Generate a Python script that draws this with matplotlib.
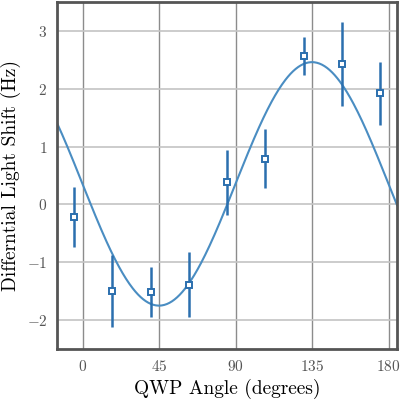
import numpy as np
import matplotlib
matplotlib.use("Agg")
import matplotlib.pyplot as plt

plt.rcParams["font.family"] = "serif"
plt.rcParams["font.serif"] = ["cmr10", "DejaVu Serif"]
plt.rcParams["mathtext.fontset"] = "cm"
plt.rcParams["axes.formatter.use_mathtext"] = True

# measured points
angle_deg = [-5, 17.5, 40, 62.5, 85, 107.5, 130, 152.5, 175]
shift_hz = [-0.22, -1.50, -1.52, -1.39, 0.38, 0.79, 2.56, 2.43, 1.92]
shift_err = [0.52, 0.62, 0.43, 0.56, 0.56, 0.51, 0.33, 0.73, 0.54]

# fit parameters: offset - amp * sin(2 theta)
fit_offset = 0.355
fit_amp = 2.105

x_ticks = [0, 45, 90, 135, 180]
y_ticks = [-2, -1, 0, 1, 2, 3]

fig = plt.figure(figsize=(4, 4), dpi=100)
ax = fig.add_axes([0.1425, 0.1275, 0.85, 0.8675])

theta = np.linspace(-15, 185, 400)
ax.plot(theta, fit_offset - fit_amp * np.sin(np.deg2rad(2 * theta)),
        color="#4a8dc2", lw=1.5, zorder=2)

ax.errorbar(angle_deg, shift_hz, yerr=shift_err, fmt="s", ms=4.5,
            mfc="white", mec="#2b6fae", mew=1.4, ecolor="#2b6fae",
            elinewidth=1.8, capsize=0, zorder=3)

ax.set_xlim(-15, 185)
ax.set_ylim(-2.5, 3.5)
ax.set_xticks(x_ticks)
ax.set_yticks(y_ticks)

ax.xaxis.grid(True, color="#8c8c8c", lw=1.0)
ax.yaxis.grid(True, color="#c4c4c4", lw=1.2)
ax.set_axisbelow(True)

for s in ax.spines.values():
    s.set_color("#555555")
    s.set_linewidth(2)

ax.tick_params(length=0, pad=7, labelsize=11, labelcolor="#555555")
ax.set_xlabel("QWP Angle (degrees)", fontsize=14, labelpad=4)
ax.set_ylabel("Differntial Light Shift (Hz)", fontsize=14, labelpad=4)

fig.savefig("out.png", dpi=100)
